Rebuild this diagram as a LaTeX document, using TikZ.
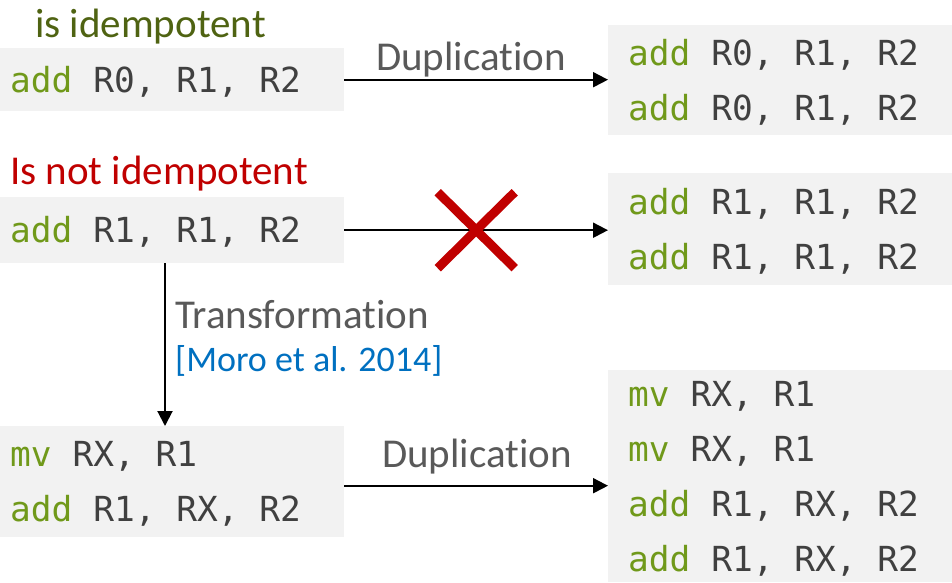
\documentclass[tikz,border=0pt]{standalone}
\usepackage{fontspec}
\setmainfont{Carlito}[Ligatures=NoCommon]
\newfontfamily\codefont{DejaVu Sans Mono}

\usetikzlibrary{arrows.meta,calc}

\definecolor{codebg}{HTML}{F2F2F2}
\definecolor{kwgreen}{HTML}{70991A}
\definecolor{codetext}{HTML}{404040}
\definecolor{labelgray}{HTML}{595959}
\definecolor{okgreen}{HTML}{4F6312}
\definecolor{badred}{HTML}{C00000}
\definecolor{citeblue}{HTML}{0070C0}

% keyword colouring; each code line starts with a fixed strut and a
% full-width monospaced interword space
\newcommand{\kw}[1]{\textcolor{kwgreen}{#1}}
\newcommand{\codeline}{\spaceskip=0.602em\relax\xspaceskip=0.602em\relax
  \rule[-5pt]{0pt}{35pt}}
% keep "t" and "i" apart so no ligature is formed
\newcommand{\ti}{t\kern0pt i}

\begin{document}
\begin{tikzpicture}[x=1pt,y=-1pt,
  codebox/.style={fill=codebg, anchor=north west, inner ysep=0pt,
    minimum width=344pt, align=left, text=codetext,
    font=\codefont\fontsize{34.5}{55}\selectfont},
  leftbox/.style={codebox, inner xsep=10pt, text width=324pt},
  rightbox/.style={codebox, inner xsep=20pt, text width=304pt},
  heading/.style={anchor=base west, inner sep=0pt, font=\fontsize{41}{48}\selectfont},
  lbl/.style={anchor=base, inner sep=0pt, text=labelgray, font=\fontsize{41}{48}\selectfont},
  flow/.style={line width=2pt, -{Triangle[length=15pt,width=15pt]}},
  crossmark/.style={line width=9pt, badred}
]
\useasboundingbox (0,0) rectangle (952,582);

% headings
\node[heading, text=okgreen] (h1) at (35,37) {is idempotent};
\node[heading, text=badred] (h2) at (10,184) {Is not idempotent};

% code boxes
\node[leftbox, minimum height=63pt] (A) at (0,48)
  {\codeline\kw{add} R0, R1, R2};
\node[rightbox, minimum height=110pt] (B) at (608,25)
  {\codeline\kw{add} R0, R1, R2\\\codeline\kw{add} R0, R1, R2};
\node[leftbox, minimum height=66pt] (C) at (0,197)
  {\codeline\kw{add} R1, R1, R2};
\node[rightbox, minimum height=112pt] (D) at (608,173)
  {\codeline\kw{add} R1, R1, R2\\\codeline\kw{add} R1, R1, R2};
\node[leftbox, minimum height=111pt] (E) at (0,426)
  {\codeline\kw{mv} RX, R1\\\codeline\kw{add} R1, RX, R2};
\node[rightbox, minimum height=212pt] (F) at (608,370)
  {\codeline\kw{mv} RX, R1\\\codeline\kw{mv} RX, R1\\
   \codeline\kw{add} R1, RX, R2\\\codeline\kw{add} R1, RX, R2};

% duplication of the idempotent instruction
\draw[flow] (A.east) -- (A.east -| B.west);
\node[lbl] (dup1) at (471,70) {Duplica\ti on};

% duplication of the non-idempotent instruction is not allowed
\draw[flow] (C.east) -- (C.east -| D.west);
\coordinate (X) at ($(C.east)!0.5!(C.east -| D.west)$);
\draw[crossmark] ($(X)+(-38.5,-38)$) -- ($(X)+(38.5,38)$);
\draw[crossmark] ($(X)+(38.5,-38)$) -- ($(X)+(-38.5,38)$);

% transformation into an idempotent sequence
\draw[flow] ([xshift=165pt]C.south west) -- ([xshift=165pt]E.north west);
\node[lbl, anchor=base west] (tr) at (175,328) {Transforma\ti on};
\node[anchor=base west, inner sep=0pt, text=citeblue,
      font=\fontsize{36}{42}\selectfont] (cite) at (175,371) {[Moro et al. 2014]};

% duplication of the transformed sequence
\draw[flow] ([yshift=-4pt]E.east) -- ([yshift=-4pt]E.east -| F.west);
\node[lbl] (dup2) at (477,467) {Duplica\ti on};
\end{tikzpicture}
\end{document}
